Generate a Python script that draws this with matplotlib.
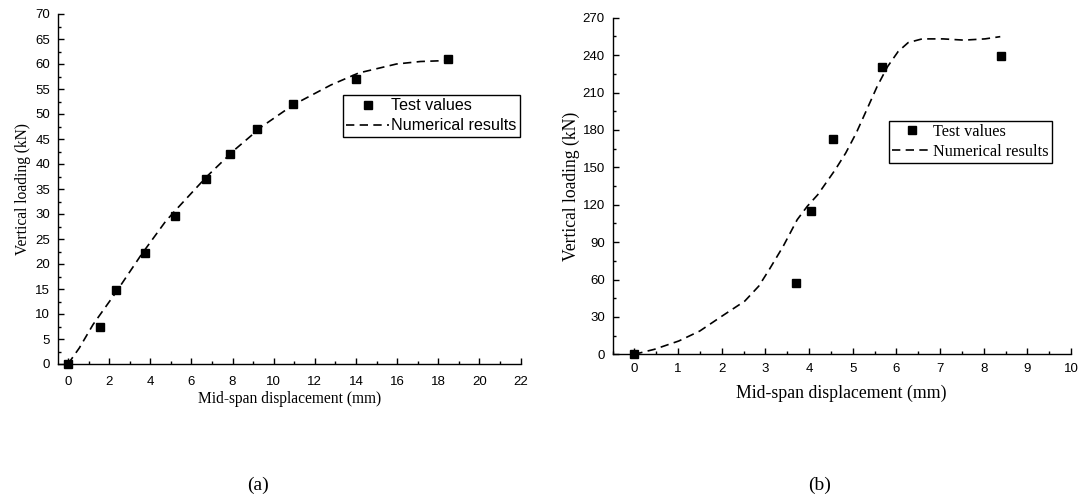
import matplotlib
matplotlib.use("Agg")
import matplotlib.pyplot as plt
from matplotlib.ticker import MultipleLocator

# ---- data: panel (a)
a_test_x = [0.0, 1.58, 2.33, 3.72, 5.21, 6.70, 7.88, 9.18, 10.96, 14.02, 18.47]
a_test_y = [0.0, 7.4, 14.9, 22.2, 29.6, 37.0, 42.0, 47.0, 52.0, 57.0, 61.0]
a_num_x = [0.0, 0.55, 1.22, 2.31, 3.57, 4.74, 5.24, 6.75, 8.09, 9.43, 10.94,
           12.78, 14.13, 15.97, 17.14, 18.48]
a_num_y = [0.0, 3.2, 7.9, 14.2, 21.9, 28.5, 30.8, 37.5, 42.8, 47.5, 51.8,
           55.8, 58.2, 60.0, 60.5, 60.7]

# ---- data: panel (b)
b_test_x = [0.0, 3.71, 4.04, 4.56, 5.68, 8.40]
b_test_y = [0.0, 57.4, 114.7, 172.6, 230.3, 239.6]
b_num_x = [0.0, 0.46, 1.02, 1.50, 2.01, 2.53, 2.85, 3.09, 3.41, 3.73, 3.96,
           4.20, 4.60, 4.84, 5.08, 5.32, 5.56, 5.80, 6.04, 6.27, 6.59, 7.07,
           7.55, 8.03, 8.38]
b_num_y = [0.0, 4.0, 10.7, 18.7, 30.7, 42.7, 54.7, 68.0, 86.7, 108.0, 118.7,
           128.0, 148.0, 161.4, 177.4, 196.0, 214.8, 230.8, 242.8, 250.0,
           253.0, 253.0, 252.0, 253.0, 254.8]

labels = ["Test values", "Numerical results"]
xlabel = "Mid-span displacement (mm)"
ylabel = "Vertical loading (kN)"
captions = ["(a)", "(b)"]

SANS = "Liberation Sans"
SERIF = "Liberation Serif"

W, H = 1085, 501
fig = plt.figure(figsize=(W / 100, H / 100), dpi=100)


def px_rect(x0, y0, x1, y1):
    return [x0 / W, 1 - y1 / H, (x1 - x0) / W, (y1 - y0) / H]


axA = fig.add_axes(px_rect(57.7, 14.0, 520.5, 364.0))
axB = fig.add_axes(px_rect(612.5, 17.7, 1071.0, 354.3))

DASH = (0, (5.0, 3.2))
LW = 1.2
MS = 5.5


def style(ax, xlim, ylim, xmaj, xmin, ymaj, ymin, tick_fs, xpad, ypad):
    ax.set_xlim(*xlim)
    ax.set_ylim(*ylim)
    ax.xaxis.set_major_locator(MultipleLocator(xmaj))
    ax.xaxis.set_minor_locator(MultipleLocator(xmin))
    ax.yaxis.set_major_locator(MultipleLocator(ymaj))
    ax.yaxis.set_minor_locator(MultipleLocator(ymin))
    for s in ("top", "right"):
        ax.spines[s].set_visible(False)
    for s in ("left", "bottom"):
        ax.spines[s].set_linewidth(1.0)
    ax.tick_params(which="major", direction="in", length=4.5, width=1.0,
                   labelsize=tick_fs)
    ax.tick_params(axis="x", which="major", pad=xpad)
    ax.tick_params(axis="y", which="major", pad=ypad)
    ax.tick_params(which="minor", direction="in", length=2.5, width=1.0)
    for lab in ax.get_xticklabels() + ax.get_yticklabels():
        lab.set_family(SANS)


def add_legend(ax, x0, y0, family, size, hlen, lspace):
    h, l = ax.get_legend_handles_labels()
    leg = fig.legend([h[1], h[0]], [l[1], l[0]], loc="upper left",
                     bbox_to_anchor=(x0 / W, 1 - y0 / H),
                     prop={"family": family, "size": size}, frameon=True,
                     fancybox=False, edgecolor="black", framealpha=1,
                     borderaxespad=0, borderpad=0.2, handlelength=hlen,
                     handletextpad=0.1, labelspacing=lspace)
    leg.get_frame().set_linewidth(1.0)
    return leg


# panel (a)
axA.plot(a_num_x, a_num_y, ls=DASH, color="black", lw=LW,
         label=labels[1], zorder=2)
axA.plot(a_test_x, a_test_y, ls="none", marker="s", ms=MS, color="black",
         label=labels[0], zorder=3, clip_on=False)
style(axA, (-0.5, 22), (0, 70), 2, 1, 5, 2.5, 9.5, 8.5, 5.5)
axA.set_xlabel(xlabel, family=SERIF, fontsize=11.2, labelpad=2)
axA.set_ylabel(ylabel, family=SERIF, fontsize=11.2, labelpad=3)
add_legend(axA, 342.7, 95.0, SANS, 11.6, 2.7, 0.32)

# panel (b)
axB.plot(b_num_x, b_num_y, ls=DASH, color="black", lw=LW,
         label=labels[1], zorder=2)
axB.plot(b_test_x, b_test_y, ls="none", marker="s", ms=MS, color="black",
         label=labels[0], zorder=3, clip_on=False)
style(axB, (-0.5, 10), (0, 270), 1, 0.5, 30, 15, 9.5, 6, 5.5)
axB.set_xlabel(xlabel, family=SERIF, fontsize=12.8, labelpad=7)
axB.set_ylabel(ylabel, family=SERIF, fontsize=12.7, labelpad=2)
add_legend(axB, 889.0, 120.5, SERIF, 11.7, 2.4, 0.25)

fig.text(258 / W, 1 - 485 / H, captions[0], family=SERIF, fontsize=14,
         ha="center", va="center")
fig.text(820 / W, 1 - 485 / H, captions[1], family=SERIF, fontsize=14,
         ha="center", va="center")

fig.savefig("out.png", dpi=100)
